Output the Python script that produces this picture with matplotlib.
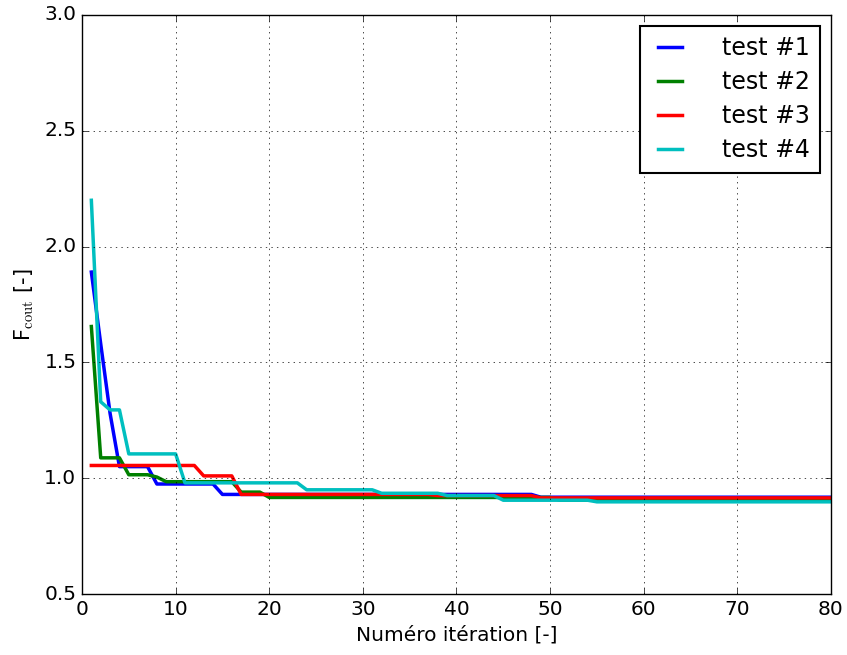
import numpy as np
import matplotlib
matplotlib.use('Agg')
import matplotlib.pyplot as plt

plt.style.use('classic')
plt.rcParams['mathtext.fontset'] = 'cm'

# iteration number 1..80
iterations = np.arange(1, 81)

# (first iteration, value) steps, held until next step
steps_1 = [(1, 1.89), (2, 1.58), (3, 1.28), (4, 1.05), (8, 0.975), (15, 0.93), (49, 0.918)]
steps_2 = [(1, 1.655), (2, 1.088), (5, 1.015), (8, 1.005), (9, 0.985), (17, 0.94), (20, 0.917), (51, 0.905)]
steps_3 = [(1, 1.055), (13, 1.01), (17, 0.93), (38, 0.925), (49, 0.915)]
steps_4 = [(1, 2.20), (2, 1.33), (3, 1.295), (5, 1.105), (11, 0.98), (24, 0.95), (32, 0.935),
           (39, 0.925), (45, 0.905), (55, 0.898)]

labels = ['test #1', 'test #2', 'test #3', 'test #4']
colors = ['b', 'g', 'r', 'c']


def expand(steps):
    vals = np.zeros(len(iterations))
    for it, v in steps:
        vals[iterations >= it] = v
    return vals


fig = plt.figure(figsize=(8.47, 6.55), dpi=100, facecolor='white')
ax = fig.add_axes([0.0968, 0.0931, 0.8843, 0.8840])

for steps, lab, col in zip([steps_1, steps_2, steps_3, steps_4], labels, colors):
    ax.plot(iterations, expand(steps), color=col, linewidth=2.5, label=lab)

ax.set_xlim(0, 80)
ax.set_ylim(0.5, 3.0)
ax.set_yticks(np.arange(0.5, 3.01, 0.5))
ax.grid(True, color='black', linestyle=':')
ax.tick_params(labelsize=14.5)
ax.set_xlabel('Numéro itération [-]', fontsize=14.5)
ax.set_ylabel(r'F$_{\rm cout}$ [-]', fontsize=15, labelpad=6)

leg = ax.legend(loc='upper right', fontsize=17, handlelength=1.6, labelspacing=0.42,
                borderpad=0.45, handletextpad=1.4, borderaxespad=0.45)
leg.get_frame().set_linewidth(1.5)

fig.savefig('out.png', dpi=100, facecolor='white')
